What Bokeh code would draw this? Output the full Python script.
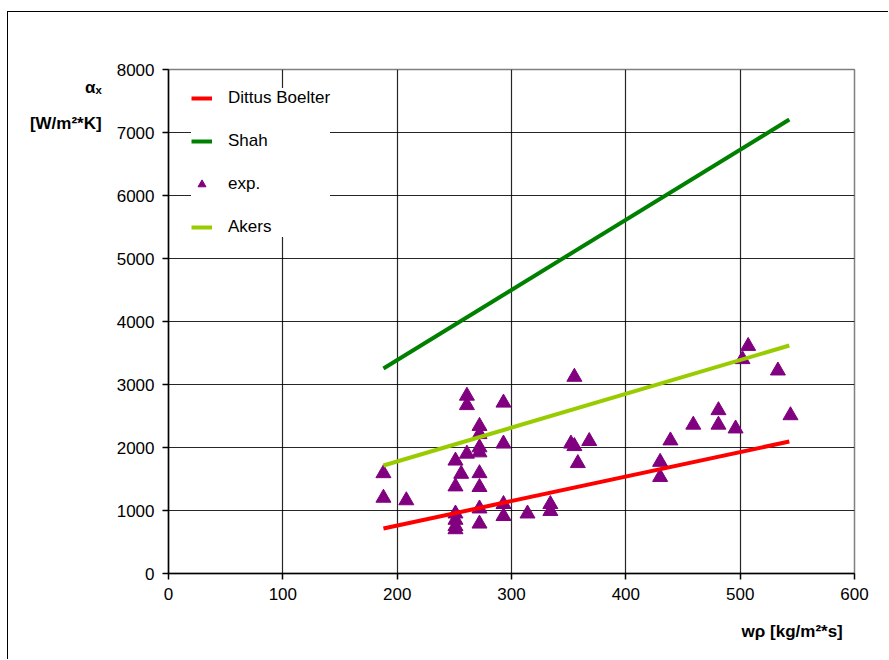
from bokeh.plotting import figure
from bokeh.models import Range1d, Legend, LegendItem, FixedTicker, Title
from bokeh.embed import file_html
from bokeh.resources import INLINE

# ---- data ----
wp_exp = [188, 188, 208, 251, 251, 251, 251, 251, 251, 256, 261, 261, 261,
          272, 272, 272, 272, 272, 272, 272, 272, 293, 293, 293, 293, 314,
          334, 334, 352, 355, 355, 358, 368, 430, 430, 439, 459, 481, 481,
          496, 502, 507, 533, 544]
alpha_exp = [1590, 1200, 1160, 1790, 1380, 950, 850, 750, 700, 1580, 2820, 2670, 1900,
             2340, 2210, 2000, 1920, 1590, 1370, 1030, 790, 2710, 2060, 1100, 910, 950,
             1100, 990, 2060, 3120, 2020, 1750, 2100, 1770, 1530, 2110, 2360, 2590, 2360,
             2300, 3400, 3610, 3220, 2510]
wp_line = [188, 543]
dittus = [714, 2095]
shah = [3254, 7206]
akers = [1714, 3619]
x_ticks = [0, 100, 200, 300, 400, 500, 600]
y_ticks = [0, 1000, 2000, 3000, 4000, 5000, 6000, 7000, 8000]
x_title = "wρ  [kg/m²*s]"
y_title = "\n\nαₓ\n[W/m²*K]"

FONT = "Liberation Sans"

p = figure(width=881, height=648, output_backend="svg", toolbar_location=None,
           x_range=Range1d(0, 600), y_range=Range1d(0, 8000),
           min_border_left=160, min_border_right=35, min_border_top=57,
           min_border_bottom=87)
p.styles = {"border-left": "1px solid black", "border-top": "1px solid black",
            "margin-top": "11px", "margin-left": "7px"}
p.background_fill_color = "white"
p.border_fill_color = "white"
p.outline_line_color = "#808080"
p.outline_line_width = 1.5

for ax, tks in ((p.xaxis[0], x_ticks), (p.yaxis[0], y_ticks)):
    ax.ticker = FixedTicker(ticks=tks)
    ax.axis_line_color = "black"
    ax.axis_line_width = 1.5
    ax.major_tick_line_color = "black"
    ax.major_tick_line_width = 1.5
    ax.major_tick_out = 6
    ax.major_tick_in = 0
    ax.minor_tick_line_color = None
    ax.major_label_text_font = FONT
    ax.major_label_text_font_size = "17px"
    ax.major_label_text_color = "black"
    ax.major_label_standoff = 8
    ax.axis_label_text_font = FONT
    ax.axis_label_text_font_size = "17px"
    ax.axis_label_text_font_style = "bold"
    ax.axis_label_text_color = "black"

yax = p.yaxis[0]
yax.axis_label = y_title
yax.axis_label_orientation = "horizontal"
yax.axis_label_standoff = 12
yax.axis_label_text_align = "center"
yax.axis_label_text_line_height = 1.9
if "axis_label_align" in yax.properties():
    yax.axis_label_align = "end"

xt = Title(text=x_title, align="right", offset=7, text_font=FONT,
           text_font_size="17px", text_font_style="bold", text_color="black",
           standoff=35)
p.add_layout(xt, "below")

p.xgrid.grid_line_color = "black"
p.ygrid.grid_line_color = "black"
p.xgrid.grid_line_width = 1.2
p.ygrid.grid_line_width = 1.2
p.xgrid.grid_line_alpha = 0.85
p.ygrid.grid_line_alpha = 0.85

r_exp = p.scatter(wp_exp, alpha_exp, marker="triangle", size=15,
                  fill_color="#800080", line_color="#800080")
r_db = p.line(wp_line, dittus, line_color="#FF0000", line_width=4)
r_shah = p.line(wp_line, shah, line_color="#008000", line_width=4)
r_akers = p.line(wp_line, akers, line_color="#99CC00", line_width=4)

legend = Legend(items=[
    LegendItem(label="Dittus Boelter", renderers=[r_db]),
    LegendItem(label="Shah", renderers=[r_shah]),
    LegendItem(label="exp.", renderers=[r_exp]),
    LegendItem(label="Akers", renderers=[r_akers]),
], location=(23, 336))
legend.border_line_color = None
legend.background_fill_color = "white"
legend.background_fill_alpha = 1.0
legend.label_text_font = FONT
legend.label_text_font_size = "17px"
legend.label_text_color = "black"
legend.padding = 10
legend.spacing = 23
legend.glyph_width = 21
legend.glyph_height = 20
legend.label_height = 20
legend.label_standoff = 16
legend.margin = 0
p.add_layout(legend)

open("out.html", "w").write(file_html(p, INLINE))
